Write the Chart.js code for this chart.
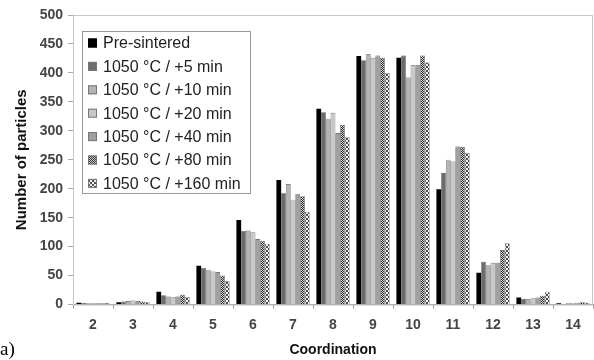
<!DOCTYPE html>
<html>
<head>
<meta charset="utf-8">
<script src="https://cdn.jsdelivr.net/npm/chart.js@4/dist/chart.umd.min.js"></script>
<style>
  body { margin: 0; background: #fff; }
  #wrap { position: relative; width: 594px; height: 360px; }
  #tag { position: absolute; left: 0; top: 339px; font: 19px "Liberation Serif", serif; line-height: 1; color: #000; }
</style>
</head>
<body>
<div id="wrap">
  <canvas id="myChart" width="594" height="360"></canvas>
  <div id="tag">a)</div>
</div>
<script>
let ctx = document.getElementById('myChart');

const categorias = ['2', '3', '4', '5', '6', '7', '8', '9', '10', '11', '12', '13', '14'];
const rotulos = ['Pre-sintered', '1050 °C / +5 min', '1050 °C / +10 min', '1050 °C / +20 min',
                 '1050 °C / +40 min', '1050 °C / +80 min', '1050 °C / +160 min'];
const preSintered = [3, 4, 22, 67, 146, 215, 338, 429, 426, 199, 55, 12, 2];
const min5   = [3, 5, 16, 63, 127, 192, 332, 422, 430, 227, 74, 10, 1];
const min10  = [2, 6, 14, 60, 128, 208, 321, 432, 392, 250, 68, 9, 3];
const min20  = [3, 7, 13, 57, 125, 181, 331, 426, 413, 247, 72, 11, 3];
const min40  = [2, 6, 14, 56, 113, 191, 296, 430, 413, 273, 72, 12, 3];
const min80  = [2, 5, 17, 50, 110, 187, 310, 426, 430, 272, 94, 15, 4];
const min160 = [3, 4, 13, 40, 105, 160, 289, 400, 418, 262, 106, 22, 3];

// padrao xadrez para as duas ultimas series
function xadrez(c1, c2, cel) {
    let cv = document.createElement('canvas');
    cv.width = cel * 2; cv.height = cel * 2;
    let g = cv.getContext('2d');
    g.fillStyle = c2; g.fillRect(0, 0, cel * 2, cel * 2);
    g.fillStyle = c1;
    g.fillRect(0, 0, cel, cel);
    g.fillRect(cel, cel, cel, cel);
    return g.createPattern(cv, 'repeat');
}

const cores = ['#000000', '#6c6c6c', '#b4b4b4', '#c8c8c8', '#a0a0a0',
               xadrez('#333333', '#d0d0d0', 1), xadrez('#505050', '#f0f0f0', 2)];
const series = [preSintered, min5, min10, min20, min40, min80, min160];

const moldura = {
    id: 'moldura',
    beforeDatasetsDraw(chart) {
        let a = chart.chartArea, c = chart.ctx;
        c.save();
        c.strokeStyle = '#c8c8c8';
        c.lineWidth = 1;
        c.strokeRect(a.left + 0.5, a.top + 0.5, a.right - a.left - 1, a.bottom - a.top);
        c.restore();
    }
};

const legenda = {
    id: 'legenda',
    afterDraw(chart) {
        let c = chart.ctx;
        c.save();
        c.fillStyle = '#fff';
        c.fillRect(82, 31, 168, 162);
        c.strokeStyle = '#999';
        c.lineWidth = 1;
        c.strokeRect(82.5, 31.5, 168, 162);
        c.font = '16px "Liberation Sans", Arial, sans-serif';
        c.textBaseline = 'middle';
        chart.data.datasets.forEach(function (d, i) {
            let y = 43 + i * 23.4;
            c.fillStyle = d.backgroundColor;
            c.fillRect(88, y - 4.5, 9, 9);
            c.strokeStyle = i === 0 ? '#000' : '#777';
            c.strokeRect(88.5, y - 4, 8, 8);
            c.fillStyle = '#222';
            c.fillText(d.label, 103, y + 1);
        });
        c.restore();
    }
};

let datasets = series.map(function (s, i) {
    return {
        label: rotulos[i],
        data: s,
        backgroundColor: cores[i],
        borderColor: i === 0 ? '#000' : '#444',
        borderWidth: i === 0 ? 0 : 0.6
    };
});

let myChart = new Chart(ctx, {
    type: 'bar',
    data: { labels: categorias, datasets: datasets },
    options: {
        responsive: false,
        animation: false,
        devicePixelRatio: 1,
        layout: { padding: { top: 15, right: 1, left: 0, bottom: 0 } },
        plugins: { legend: { display: false }, tooltip: { enabled: false } },
        datasets: { bar: { categoryPercentage: 0.83, barPercentage: 1.0 } },
        scales: {
            x: {
                grid: { offset: true, drawOnChartArea: false, tickLength: 4, color: '#999' },
                border: { color: '#999' },
                ticks: { padding: 8, color: '#444', font: { family: 'Liberation Sans', size: 14, weight: 'bold' } },
                title: { display: true, text: 'Coordination', color: '#111', padding: { top: 0, bottom: 1 },
                         font: { family: 'Liberation Sans', size: 14, weight: 'bold' } },
                afterFit: function (s) { s.height = 55.5; }
            },
            y: {
                min: 0,
                max: 500,
                ticks: { stepSize: 50, padding: 5, color: '#444', font: { family: 'Liberation Sans', size: 14, weight: 'bold' } },
                grid: { drawOnChartArea: false, tickLength: 5, color: '#aaa' },
                border: { color: '#bbb' },
                title: { display: true, text: 'Number of particles', color: '#111', padding: { top: 13, bottom: 0 },
                         font: { family: 'Liberation Sans', size: 15, weight: 'bold' } },
                afterFit: function (s) { s.width = 73; }
            }
        }
    },
    plugins: [moldura, legenda]
});
</script>
</body>
</html>
